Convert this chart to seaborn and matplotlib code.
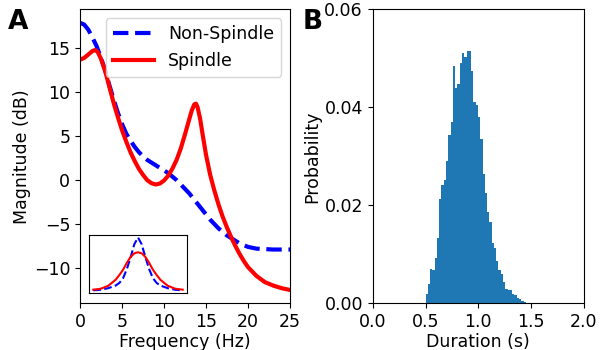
import numpy as np
import pandas as pd
import matplotlib
matplotlib.use("Agg")
import matplotlib.pyplot as plt
import seaborn as sns

# ---------------- data ----------------
freq_ns = [0, 0.5, 1, 1.5, 2, 2.5, 3, 3.5, 4, 4.5, 5, 5.5, 6, 6.5, 7, 7.5, 8, 8.5, 9, 9.5,
           10, 10.5, 11, 11.5, 12, 12.5, 13, 13.5, 14, 14.5, 15, 15.5, 16, 16.5, 17, 17.5,
           18, 18.5, 19, 19.5, 20, 21, 22, 23, 24, 25]
mag_ns = [17.9, 17.7, 17.1, 16.2, 15.2, 13.9, 12.5, 10.8, 9.2, 7.7, 6.4, 5.3, 4.5, 3.8, 3.2,
          2.7, 2.3, 2.0, 1.7, 1.4, 1.1, 0.8, 0.4, 0.0, -0.5, -1.0, -1.5, -2.1, -2.7, -3.3,
          -3.9, -4.5, -5.0, -5.5, -5.9, -6.3, -6.6, -6.9, -7.2, -7.4, -7.6, -7.8, -7.85,
          -7.9, -7.9, -7.9]

freq_sp = [0, 0.5, 1, 1.5, 1.8, 2.1, 2.5, 3, 3.5, 4, 4.5, 5, 5.5, 6, 6.5, 7, 7.5, 8, 8.5, 9,
           9.5, 10, 10.5, 11, 11.5, 12, 12.5, 13, 13.3, 13.6, 13.8, 14.0, 14.3, 14.6, 15,
           15.5, 16, 16.5, 17, 17.5, 18, 18.5, 19, 19.5, 20, 20.5, 21, 22, 23, 24, 25]
mag_sp = [13.7, 13.9, 14.3, 14.7, 14.8, 14.6, 13.8, 12.4, 10.6, 8.8, 7.2, 5.7, 4.4, 3.2, 2.2,
          1.3, 0.6, 0.0, -0.35, -0.5, -0.4, -0.05, 0.5, 1.3, 2.3, 3.6, 5.2, 6.9, 7.9, 8.6,
          8.7, 8.3, 7.0, 5.2, 2.9, 0.6, -1.2, -2.8, -4.2, -5.4, -6.5, -7.5, -8.4, -9.2,
          -9.9, -10.4, -10.9, -11.6, -12.0, -12.3, -12.5]

inset_x = [-3, -2.5, -2, -1.5, -1.25, -1, -0.75, -0.5, -0.25, 0,
           0.25, 0.5, 0.75, 1, 1.25, 1.5, 2, 2.5, 3]
inset_ns = [0.0, 0.01, 0.04, 0.09, 0.14, 0.23, 0.40, 0.62, 0.87, 1.0,
            0.87, 0.62, 0.40, 0.23, 0.14, 0.09, 0.04, 0.01, 0.0]
inset_sp = [0.012, 0.03, 0.085, 0.20, 0.29, 0.39, 0.52, 0.63, 0.70, 0.72,
            0.70, 0.63, 0.52, 0.39, 0.29, 0.20, 0.085, 0.03, 0.012]

dur_prob = [0.0020, 0.0039, 0.0070, 0.0068, 0.0092, 0.0133, 0.0212, 0.0241, 0.0251, 0.0290,
            0.0343, 0.0370, 0.0485, 0.0439, 0.0447, 0.0490, 0.0511, 0.0503, 0.0515, 0.0515,
            0.0474, 0.0411, 0.0404, 0.0380, 0.0335, 0.0264, 0.0225, 0.0186, 0.0165, 0.0123,
            0.0112, 0.0086, 0.0067, 0.0059, 0.0043, 0.0029, 0.0027, 0.0027, 0.0018, 0.0016,
            0.0010, 0.0008, 0.0004, 0.0002]
dur_range = (0.5, 1.45)

# ---------------- figure ----------------
fig = plt.figure(figsize=(6, 3.5), dpi=100)
axA = fig.add_axes([0.1333, 0.1334, 0.35, 0.8396])
axB = fig.add_axes([0.6212, 0.1334, 0.352, 0.8396])

LAB = 12.5
TCK = 12.5

sns.lineplot(x=freq_ns, y=mag_ns, ax=axA, color="blue", linestyle="--", linewidth=3,
             label="Non-Spindle")
sns.lineplot(x=freq_sp, y=mag_sp, ax=axA, color="red", linewidth=3, label="Spindle")
axA.set_xlim(0, 25)
axA.set_xticks([0, 5, 10, 15, 20, 25])
axA.set_yticks([-10, -5, 0, 5, 10, 15])
axA.set_xlabel("Frequency (Hz)", fontsize=LAB, labelpad=1.5)
axA.set_ylabel("Magnitude (dB)", fontsize=LAB, labelpad=2)
axA.tick_params(labelsize=TCK)
axA.legend(loc="upper right", fontsize=LAB, handlelength=2.4)

axI = fig.add_axes([0.148, 0.163, 0.164, 0.166])
sns.lineplot(x=inset_x, y=inset_ns, ax=axI, color="blue", linestyle="--", linewidth=1.5)
sns.lineplot(x=inset_x, y=inset_sp, ax=axI, color="red", linewidth=1.5)
axI.set_xticks([])
axI.set_yticks([])
axI.set_xlabel("")
axI.set_ylabel("")

centers = [dur_range[0] + (i + 0.5) * (dur_range[1] - dur_range[0]) / len(dur_prob)
           for i in range(len(dur_prob))]
df = pd.DataFrame({"dur": centers, "p": dur_prob})
sns.histplot(data=df, x="dur", weights="p", bins=len(dur_prob), binrange=dur_range,
             ax=axB, color="#1f77b4", alpha=1, linewidth=0, stat="count")
axB.set_xlim(0, 2)
axB.set_ylim(0, 0.06)
axB.set_xticks([0, 0.5, 1.0, 1.5, 2.0])
axB.set_yticks([0, 0.02, 0.04, 0.06])
axB.set_xticklabels(["0.0", "0.5", "1.0", "1.5", "2.0"])
axB.set_yticklabels(["0.00", "0.02", "0.04", "0.06"])
axB.set_xlabel("Duration (s)", fontsize=LAB, labelpad=1.5)
axB.set_ylabel("Probability", fontsize=LAB, labelpad=2)
axB.tick_params(labelsize=TCK)

fig.text(0.013, 0.975, "A", fontsize=19, fontweight="bold", va="top", ha="left")
fig.text(0.505, 0.975, "B", fontsize=19, fontweight="bold", va="top", ha="left")

fig.savefig("out.png", dpi=100)
